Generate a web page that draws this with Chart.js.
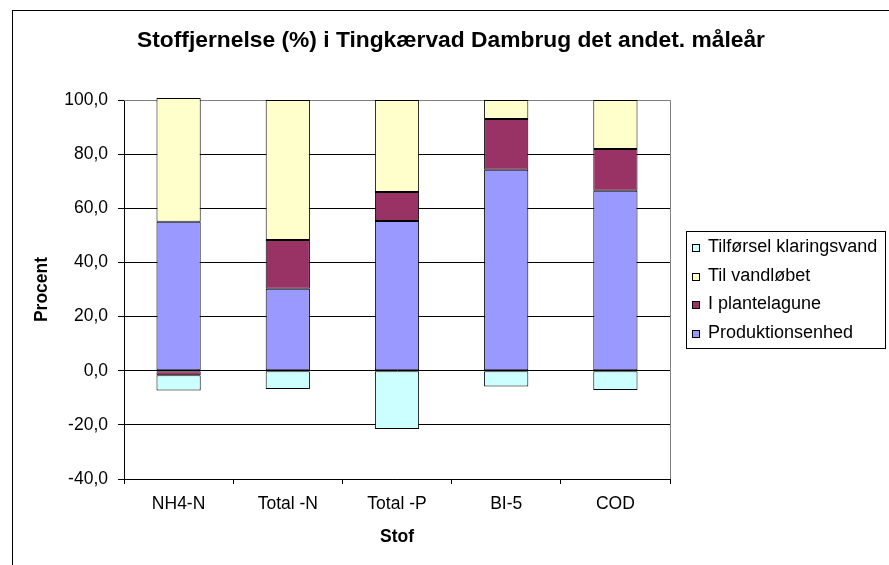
<!DOCTYPE html>
<html>
<head>
<meta charset="utf-8">
<script src="https://cdn.jsdelivr.net/npm/chart.js@4"></script>
<style>
  html, body { margin: 0; padding: 0; background: #fff; }
  #wrap { width: 889px; height: 565px; }
</style>
</head>
<body>
<div id="wrap"><canvas id="stofChart" width="889" height="565"></canvas></div>
<script>
  // kategorier og serier (procent)
  var stoffer = ['NH4-N', 'Total -N', 'Total -P', 'BI-5', 'COD'];
  var produktionsenhed = [55.0, 30.3, 55.3, 74.2, 66.5];
  var plantelagune = [-1.7, 18.0, 10.7, 18.8, 15.4];
  var vandloebet = [45.7, 51.7, 34.0, 7.0, 18.1];
  var klaringsvand = [-5.6, -6.8, -21.5, -5.8, -7.1];
  var yTicks = [-40, -20, 0, 20, 40, 60, 80, 100];
  var titel = 'Stoffjernelse (%) i Tingkærvad Dambrug det andet. måleår';

  var FONT = "'Liberation Sans', Arial, sans-serif";

  // ramme rundt om diagrammet, titel og grå kant på plotområdet
  var frames = {
    id: 'frames',
    beforeDraw: function (chart) {
      var ctx = chart.ctx;
      ctx.save();
      ctx.fillStyle = '#fff';
      ctx.fillRect(0, 0, chart.width, chart.height);
      ctx.strokeStyle = '#000';
      ctx.lineWidth = 1;
      ctx.strokeRect(12.5, 10.5, 1000, 1000);
      // titlen er centreret over hele rammen, ikke kun plotområdet
      ctx.fillStyle = '#000';
      ctx.font = 'bold 22.8px ' + FONT;
      ctx.textAlign = 'center';
      ctx.textBaseline = 'middle';
      ctx.fillText(titel, 451, 41);
      ctx.restore();
    },
    beforeDatasetsDraw: function (chart) {
      var a = chart.chartArea;
      var ctx = chart.ctx;
      ctx.save();
      ctx.strokeStyle = '#808080';
      ctx.lineWidth = 1;
      ctx.beginPath();
      ctx.moveTo(a.left, Math.round(a.top) + 0.5);
      ctx.lineTo(Math.round(a.right) + 0.5, Math.round(a.top) + 0.5);
      ctx.lineTo(Math.round(a.right) + 0.5, a.bottom);
      ctx.stroke();
      ctx.restore();
    }
  };

  // forklaring i boks til højre (omvendt rækkefølge som i Excel)
  var boxLegend = {
    id: 'boxLegend',
    afterDraw: function (chart) {
      var ctx = chart.ctx;
      var ds = chart.data.datasets.slice().reverse();
      ctx.save();
      ctx.strokeStyle = '#000';
      ctx.lineWidth = 1;
      ctx.strokeRect(686.5, 231.5, 199, 117);
      ctx.font = '18px ' + FONT;
      ctx.textBaseline = 'middle';
      ctx.textAlign = 'left';
      for (var i = 0; i < ds.length; i++) {
        var y = 247 + i * 28.7;
        ctx.fillStyle = ds[i].backgroundColor;
        ctx.fillRect(692.5, Math.round(y - 3) + 0.5, 7, 7);
        ctx.strokeRect(692.5, Math.round(y - 3) + 0.5, 7, 7);
        ctx.fillStyle = '#000';
        ctx.fillText(ds[i].label, 708, y);
      }
      ctx.restore();
    }
  };

  var ctx = document.getElementById('stofChart').getContext('2d');
  var chart = new Chart(ctx, {
    type: 'bar',
    data: {
      labels: stoffer,
      datasets: [
        { label: 'Produktionsenhed', data: produktionsenhed, backgroundColor: '#9999FF' },
        { label: 'I plantelagune', data: plantelagune, backgroundColor: '#993366' },
        { label: 'Til vandløbet', data: vandloebet, backgroundColor: '#FFFFCC' },
        { label: 'Tilførsel klaringsvand', data: klaringsvand, backgroundColor: '#CCFFFF' }
      ]
    },
    options: {
      responsive: false,
      animation: false,
      clip: false,
      layout: { padding: { left: 12, right: 219, top: 100, bottom: 0 } },
      datasets: {
        bar: {
          borderColor: '#000',
          borderWidth: 1,
          borderSkipped: false,
          barPercentage: 0.405,
          categoryPercentage: 1
        }
      },
      plugins: {
        legend: { display: false },
        tooltip: { enabled: false },
        title: { display: false }
      },
      scales: {
        x: {
          stacked: true,
          grid: { display: true, drawOnChartArea: false, color: '#000', tickLength: 5 },
          border: { color: '#000', width: 1 },
          ticks: { color: '#000', font: { family: FONT, size: 17.5 }, padding: 10, maxRotation: 0 },
          title: {
            display: true, text: 'Stof', color: '#000',
            font: { family: FONT, size: 17.5, weight: 'bold' },
            padding: { top: 0, bottom: 17 }
          },
          afterFit: function (s) { s.height = 86; }
        },
        y: {
          stacked: true,
          min: -40,
          max: 100,
          afterBuildTicks: function (s) {
            s.ticks = yTicks.map(function (v) { return { value: v }; });
          },
          grid: {
            color: function (c) { return c.tick && c.tick.value === 100 ? '#808080' : '#000'; },
            tickColor: '#000',
            tickLength: 6,
            lineWidth: 1
          },
          border: { color: '#000', width: 1 },
          ticks: {
            color: '#000',
            font: { family: FONT, size: 17.5 },
            padding: 10,
            callback: function (v) { return v.toFixed(1).replace('.', ','); }
          },
          title: {
            display: true, text: 'Procent', color: '#000',
            font: { family: FONT, size: 17.5, weight: 'bold' },
            padding: { top: 20, bottom: 0 }
          },
          afterFit: function (s) { s.width = 112; }
        }
      }
    },
    plugins: [frames, boxLegend]
  });
</script>
</body>
</html>
